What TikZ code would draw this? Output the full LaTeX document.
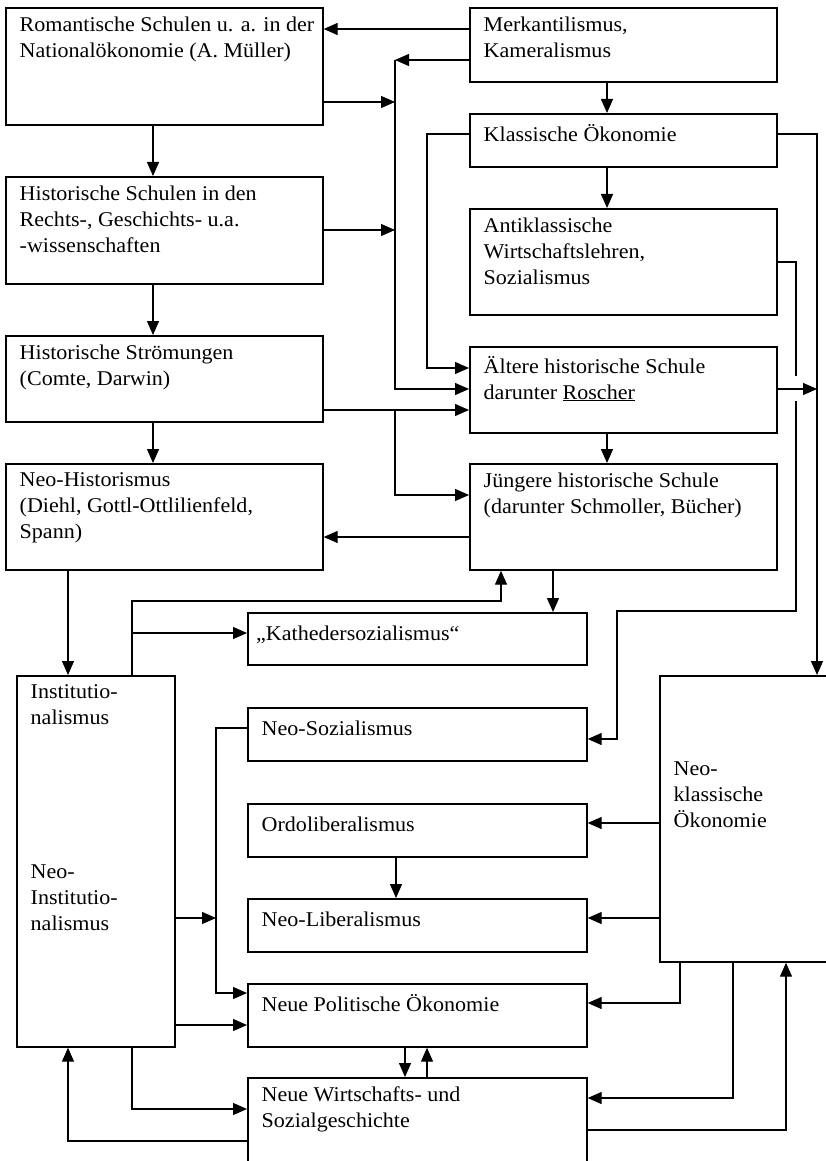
\documentclass[tikz,border=0pt]{standalone}
\usepackage{fontspec}
\setmainfont{Liberation Serif}[FakeStretch=1.05]
\usetikzlibrary{arrows.meta}
\usetikzlibrary{positioning}

\begin{document}
\begin{tikzpicture}[x=1pt,y=-1pt,
  box/.style={draw,line width=1.7pt,anchor=north west,inner sep=0pt},
  txt/.style={align=left,inner sep=0pt,font={\fontsize{21}{26}\selectfont},execute at begin node=\strut},
  ln/.style={line width=1.3pt},
  arr/.style={line width=1.3pt,-{Triangle[length=14pt,width=12pt]}}]
\useasboundingbox (0,0) rectangle (825,1161);

% left column
\node[box,minimum width=317,minimum height=117] (rom) at (5,7) {};
\node[txt,below right=9.8pt and 14.5pt of rom.north west] (rom-t) {Romantische Schulen u. a. in der\\Nationalökonomie (A. Müller)};
\node[box,minimum width=317,minimum height=107] (hist) at (5,176) {};
\node[txt,below right=9.8pt and 14.5pt of hist.north west] (hist-t) {Historische Schulen in den\\Rechts-, Geschichts- u.a.\\-wissenschaften};
\node[box,minimum width=317,minimum height=86] (stroem) at (5,335) {};
\node[txt,below right=9.8pt and 14.5pt of stroem.north west] (stroem-t) {Historische Strömungen\\(Comte, Darwin)};
\node[box,minimum width=317,minimum height=106] (neohist) at (5,463) {};
\node[txt,below right=9.8pt and 14.5pt of neohist.north west] (neohist-t) {Neo-Historismus\\(Diehl, Gottl-Ottlilienfeld,\\Spann)};
\node[box,minimum width=158,minimum height=371] (inst) at (16,675) {};
\node[txt,below right=9.8pt and 14.5pt of inst.north west] (inst-t) {Institutio-\\nalismus};
\node[txt,below right=190pt and 14.5pt of inst.north west] (neoinst-t) {Neo-\\Institutio-\\nalismus};

% right column
\node[box,minimum width=307,minimum height=74] (merk) at (469,7) {};
\node[txt,below right=9.8pt and 14.5pt of merk.north west] (merk-t) {Merkantilismus,\\Kameralismus};
\node[box,minimum width=307,minimum height=53] (klass) at (469,113) {};
\node[txt,below right=9.8pt and 14.5pt of klass.north west] (klass-t) {Klassische Ökonomie};
\node[box,minimum width=307,minimum height=106] (anti) at (469,208) {};
\node[txt,below right=9.8pt and 14.5pt of anti.north west] (anti-t) {Antiklassische\\Wirtschaftslehren,\\Sozialismus};
\node[box,minimum width=307,minimum height=86] (aelter) at (469,346) {};
\node[txt,below right=9.8pt and 14.5pt of aelter.north west] (aelter-t) {Ältere historische Schule\\darunter \underline{Roscher}};
\node[box,minimum width=307,minimum height=106] (juenger) at (469,463) {};
\node[txt,below right=9.8pt and 14.5pt of juenger.north west] (juenger-t) {Jüngere historische Schule\\(darunter Schmoller, Bücher)};

% middle column
\node[box,minimum width=339,minimum height=52] (katheder) at (247,612) {};
\node[txt,below right=9.8pt and 9pt of katheder.north west] (katheder-t) {„Kathedersozialismus“};
\node[box,minimum width=339,minimum height=53] (neosoz) at (247,707) {};
\node[txt,below right=9.8pt and 14.5pt of neosoz.north west] (neosoz-t) {Neo-Sozialismus};
\node[box,minimum width=339,minimum height=53] (ordo) at (247,803) {};
\node[txt,below right=9.8pt and 14.5pt of ordo.north west] (ordo-t) {Ordoliberalismus};
\node[box,minimum width=339,minimum height=53] (neolib) at (247,898) {};
\node[txt,below right=9.8pt and 14.5pt of neolib.north west] (neolib-t) {Neo-Liberalismus};
\node[box,minimum width=339,minimum height=63] (npo) at (247,983) {};
\node[txt,below right=9.8pt and 14.5pt of npo.north west] (npo-t) {Neue Politische Ökonomie};
\node[box,minimum width=339,minimum height=110] (nwsg) at (247,1077) {}; % runs off the page
\node[txt,below right=9.8pt and 14.5pt of nwsg.north west] (nwsg-t) {Neue Wirtschafts- und\\Sozialgeschichte};
\node[box,minimum width=180,minimum height=286] (neoklass) at (659,675) {}; % runs off the page
\node[txt,below right=86.8pt and 14.5pt of neoklass.north west] (neoklass-t) {Neo-\\klassische\\Ökonomie};

% links at the top
\coordinate (bus) at (395,60);
\draw[arr] (merk.west |- 0,29) -- (rom.east |- 0,29);
\draw[arr] (merk.west |- 0,60) -- (bus);
\draw[arr] (bus) |- (aelter.west |- 0,389);
\draw[arr] (rom.east |- 0,102) -- (bus |- 0,102);
\draw[arr] (hist.east |- 0,230) -- (bus |- 0,230);
\draw[arr] (klass.west |- 0,134) -| (427,368) -- (aelter.west |- 0,368);
\draw[arr] (stroem.east |- 0,410) -- (aelter.west |- 0,410);
\draw[arr] (bus |- 0,410) |- (juenger.west |- 0,495);
\draw[arr] (juenger.west |- 0,537) -- (neohist.east |- 0,537);
\draw[arr] (merk.south -| 607,0) -- (klass.north -| 607,0);
\draw[arr] (klass.south -| 607,0) -- (anti.north -| 607,0);
\draw[arr] (aelter.south -| 607,0) -- (juenger.north -| 607,0);
\draw[arr] (klass.east |- 0,134) -| (neoklass.north -| 817,0);
\draw[ln] (anti.east |- 0,262) -| (796,376); % gap where the Roscher line crosses
\draw[arr] (796,401) |- (617,611) |- (neosoz.east |- 0,739);
\draw[arr] (aelter.east |- 0,389) -- (817,389);

% left column down
\draw[arr] (rom.south -| 153,0) -- (hist.north -| 153,0);
\draw[arr] (hist.south -| 153,0) -- (stroem.north -| 153,0);
\draw[arr] (stroem.south -| 153,0) -- (neohist.north -| 153,0);
\draw[arr] (neohist.south -| 68,0) -- (inst.north -| 68,0);
\draw[arr] (inst.north -| 132,0) |- (501,601) -- (juenger.south -| 501,0);
\draw[arr] (132,633) -- (katheder.west |- 0,633);
\draw[arr] (juenger.south -| 553,0) -- (katheder.north -| 553,0);

% lower part
\draw[arr] (neosoz.west |- 0,728) -| (216,993) -- (npo.west |- 0,993);
\draw[arr] (inst.east |- 0,918) -- (216,918);
\draw[arr] (inst.east |- 0,1025) -- (npo.west |- 0,1025);
\draw[arr] (inst.south -| 132,0) |- (nwsg.west |- 0,1109);
\draw[arr] (nwsg.west |- 0,1141) -| (inst.south -| 68,0);
\draw[arr] (ordo.south -| 396,0) -- (neolib.north -| 396,0);
\draw[arr] (neoklass.west |- 0,823) -- (ordo.east |- 0,823);
\draw[arr] (neoklass.west |- 0,918) -- (neolib.east |- 0,918);
\draw[arr] (neoklass.south -| 680,0) |- (npo.east |- 0,1003);
\draw[arr] (neoklass.south -| 733,0) |- (nwsg.east |- 0,1098);
\draw[arr] (nwsg.east |- 0,1130) -| (neoklass.south -| 786,0);
\draw[arr] (npo.south -| 405,0) -- (nwsg.north -| 405,0);
\draw[arr] (nwsg.north -| 427,0) -- (npo.south -| 427,0);

\end{tikzpicture}
\end{document}
